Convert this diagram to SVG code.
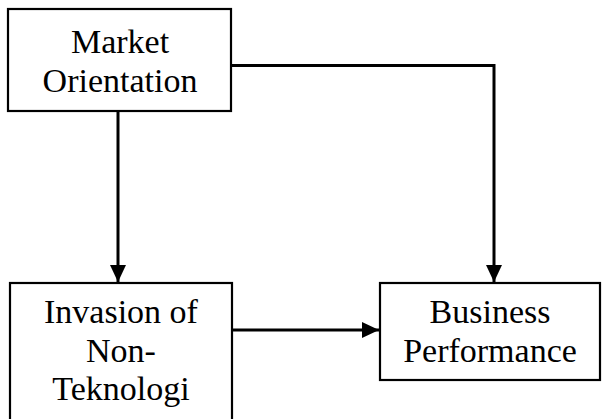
<svg xmlns="http://www.w3.org/2000/svg" width="602" height="419" viewBox="0 0 602 419">
<style>
.box{fill:#fff;stroke:#000;stroke-width:2.2}
.lbl{font-family:"Liberation Serif","Times New Roman",serif;font-size:34px;fill:#000;text-anchor:middle}
.con{fill:none;stroke:#000;stroke-width:3}
</style>
<defs>
<marker id="ah" markerUnits="userSpaceOnUse" markerWidth="18" markerHeight="18" refX="17" refY="9" orient="auto">
<path d="M0,1 L17,9 L0,17 Z" fill="#000"/>
</marker>
</defs>
<rect width="602" height="419" fill="#fff"/>
<g id="market-orientation">
<rect class="box" x="8" y="9" width="223" height="102"/>
<text class="lbl" x="120" y="53">Market</text>
<text class="lbl" x="120" y="92">Orientation</text>
</g>
<g id="invasion">
<rect class="box" x="10" y="283" width="222" height="150"/>
<text class="lbl" x="121" y="323">Invasion of</text>
<text class="lbl" x="121" y="362">Non-</text>
<text class="lbl" x="121" y="400">Teknologi</text>
</g>
<g id="business-performance">
<rect class="box" x="380" y="283" width="220" height="97"/>
<text class="lbl" x="490" y="323">Business</text>
<text class="lbl" x="490" y="362">Performance</text>
</g>
<g id="connectors">
<path class="con" d="M118,111 V282" marker-end="url(#ah)"/>
<path class="con" d="M231,65.5 H494 V282" marker-end="url(#ah)"/>
<path class="con" d="M232,330 H379" marker-end="url(#ah)"/>
</g>
</svg>
